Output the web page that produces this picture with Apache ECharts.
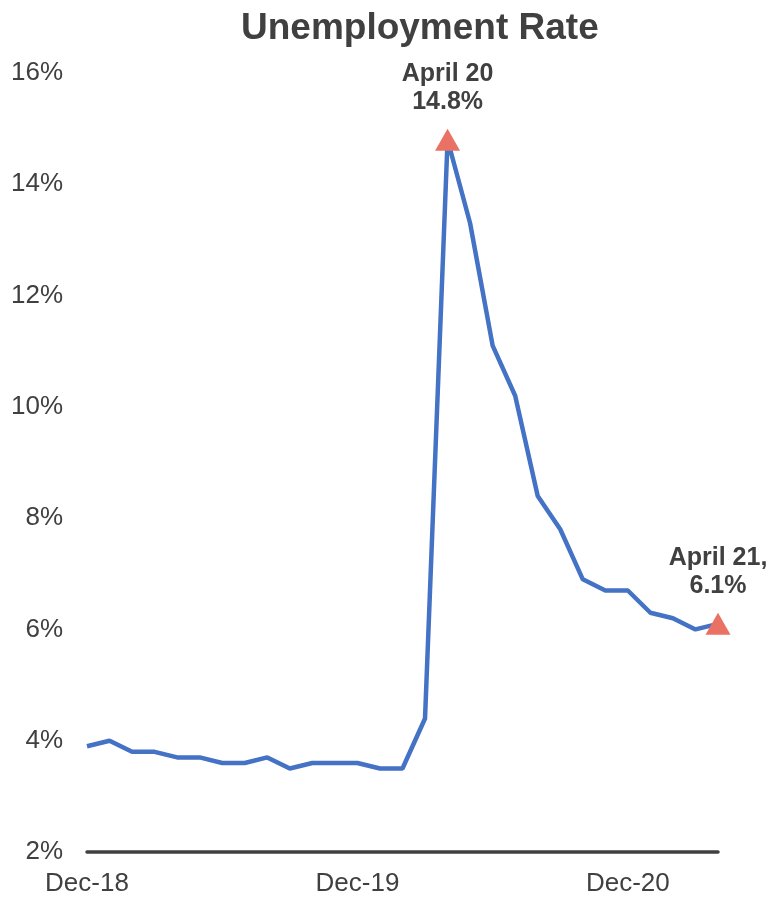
<!DOCTYPE html>
<html>
<head>
<meta charset="utf-8">
<script src="https://cdn.jsdelivr.net/npm/echarts@6/dist/echarts.min.js"></script>
<style>
  html, body { margin: 0; padding: 0; background: #fff; }
  #chart { width: 773px; height: 899px; }
</style>
</head>
<body>
<div id="chart"></div>
<script>
// Monthly US unemployment rate, Dec 2018 – Apr 2021
const months = [
  'Dec-18', 'Jan-19', 'Feb-19', 'Mar-19', 'Apr-19', 'May-19', 'Jun-19', 'Jul-19',
  'Aug-19', 'Sep-19', 'Oct-19', 'Nov-19', 'Dec-19', 'Jan-20', 'Feb-20', 'Mar-20',
  'Apr-20', 'May-20', 'Jun-20', 'Jul-20', 'Aug-20', 'Sep-20', 'Oct-20', 'Nov-20',
  'Dec-20', 'Jan-21', 'Feb-21', 'Mar-21', 'Apr-21'
];
const rate = [
  3.9, 4.0, 3.8, 3.8, 3.7, 3.7, 3.6, 3.6, 3.7, 3.5, 3.6, 3.6, 3.6, 3.5, 3.5, 4.4,
  14.8, 13.3, 11.1, 10.2, 8.4, 7.8, 6.9, 6.7, 6.7, 6.3, 6.2, 6.0, 6.1
];
const labelledMonths = ['Dec-18', 'Dec-19', 'Dec-20'];
const highlights = [
  { month: 'Apr-20', text: 'April 20\n14.8%' },
  { month: 'Apr-21', text: 'April 21,\n6.1%' }
];

const sans = '"Liberation Sans", Arial, sans-serif';

const chart = echarts.init(document.getElementById('chart'));
chart.setOption({
  animation: false,
  backgroundColor: '#fff',
  title: {
    text: 'Unemployment Rate',
    left: 236,
    top: 5,
    textStyle: { fontFamily: sans, fontSize: 37, fontWeight: 'bold', color: '#404040' }
  },
  grid: { left: 87, right: 55, top: 73, bottom: 47 },
  xAxis: {
    type: 'category',
    data: months,
    boundaryGap: false,
    axisLine: { lineStyle: { color: '#404040', width: 3.5 } },
    axisTick: { show: false },
    axisLabel: {
      interval: (i, v) => labelledMonths.includes(v),
      margin: 19,
      fontFamily: sans,
      fontSize: 26,
      color: '#404040'
    },
    splitLine: { show: false }
  },
  yAxis: {
    type: 'value',
    min: 2,
    max: 16,
    interval: 2,
    axisLine: { show: false },
    axisTick: { show: false },
    splitLine: { show: false },
    axisLabel: {
      formatter: '{value}%',
      margin: 24,
      fontFamily: sans,
      fontSize: 26,
      color: '#404040'
    }
  },
  series: [{
    type: 'line',
    data: rate,
    symbol: 'none',
    lineStyle: { color: '#4472C4', width: 4.5 },
    markPoint: {
      symbol: 'triangle',
      symbolSize: [25, 22],
      itemStyle: { color: '#E97264' },
      label: {
        show: true,
        position: 'top',
        distance: 13,
        fontFamily: sans,
        fontWeight: 'bold',
        fontSize: 25,
        lineHeight: 28,
        color: '#404040',
        align: 'center'
      },
      data: highlights.map(h => ({
        coord: [h.month, rate[months.indexOf(h.month)]],
        label: { formatter: h.text }
      }))
    }
  }]
});
</script>
</body>
</html>
